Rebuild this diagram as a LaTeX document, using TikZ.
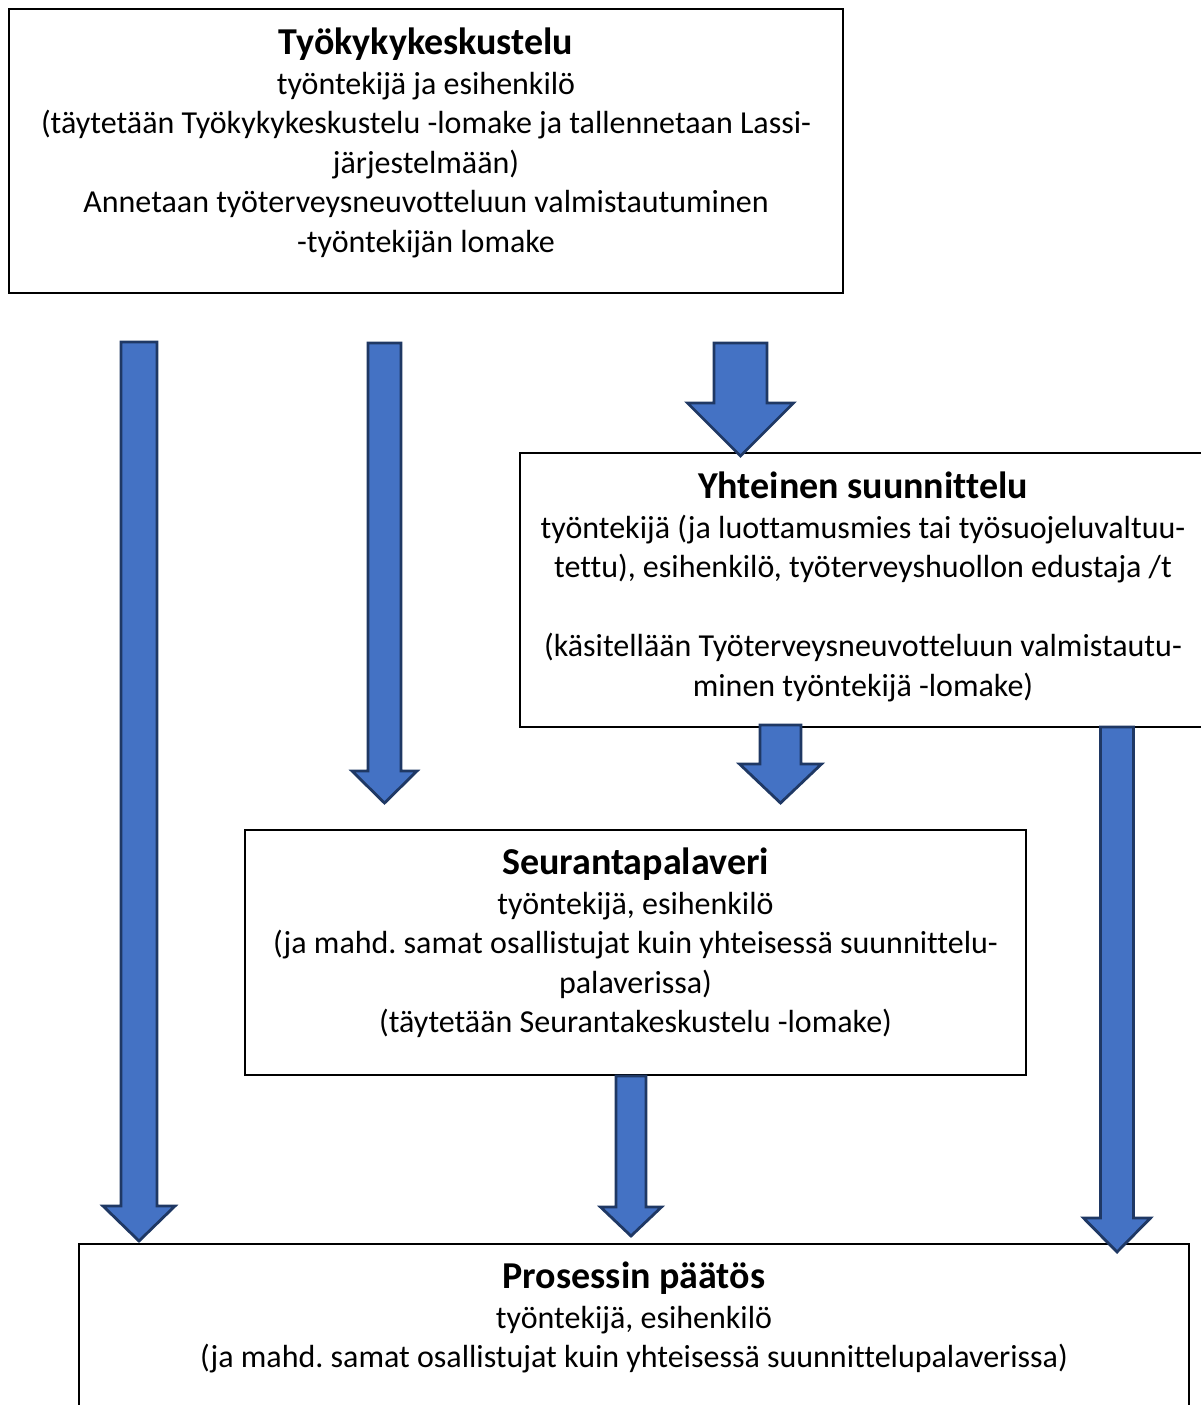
\documentclass[tikz,border=0pt]{standalone}
\usepackage{fontspec}
\setmainfont{Carlito}[Ligatures=NoCommon]
\usepackage{tikz}
\usetikzlibrary{positioning,calc}
\definecolor{arrowfill}{HTML}{4472C4}
\definecolor{arrowline}{HTML}{1F3864}
\newcommand{\bodyfont}{\fontsize{32}{39.5}\selectfont}
\newcommand{\titlefont}{\fontsize{38}{40}\selectfont\bfseries}
\frenchspacing
\tikzset{
  box/.style={draw, line width=2pt, anchor=north west, inner sep=0pt},
  boxtext/.style={anchor=north, align=center, inner sep=0pt, font=\bodyfont},
  blockarrow/.style={fill=arrowfill, draw=arrowline, line width=2.8pt, line join=miter}
}

\begin{document}
\begin{tikzpicture}[x=1pt,y=-1pt]
  \useasboundingbox (0,0) rectangle (1201,1405);
  % boxes
  \node[box, minimum width=834pt, minimum height=284pt] (kesk) at (8,8) {};
  \node[box, minimum width=686pt, minimum height=274pt] (suunn) at (519,452) {};
  \node[box, minimum width=781pt, minimum height=245pt] (seur) at (244,829) {};
  \node[box, minimum width=1110pt, minimum height=257pt] (paatos) at (78,1243) {};
  % texts
  \node[boxtext] (kesktext) at ([yshift=-20pt]kesk.north) {{\titlefont Työkykykeskustelu}\\
    työntekijä ja esihenkilö\\
    (täytetään Työkykykeskustelu -lomake ja tallennetaan Lassi-\\
    järjestelmään)\\
    Annetaan työterveysneuvotteluun valmistautuminen\\
    -työntekijän lomake};
  \node[boxtext] (suunntext) at ([yshift=-20pt]suunn.north) {{\titlefont Yhteinen suunnittelu}\\
    työntekijä (ja luottamusmies tai työsuojeluvaltuu-\\
    tettu), esihenkilö, työterveyshuollon edustaja /t\\
    \\
    (käsitellään Työterveysneuvotteluun valmistautu-\\
    minen työntekijä -lomake)};
  \node[boxtext] (seurtext) at ([yshift=-19pt]seur.north) {{\titlefont Seurantapalaveri}\\
    työntekijä, esihenkilö\\
    (ja mahd. samat osallistujat kuin yhteisessä suunnittelu-\\
    palaverissa)\\
    (täytetään Seurantakeskustelu -lomake)};
  \node[boxtext] (paatostext) at ([yshift=-19pt]paatos.north) {{\titlefont Prosessin päätös}\\
    työntekijä, esihenkilö\\
    (ja mahd. samat osallistujat kuin yhteisessä suunnittelupalaverissa)};
  % block arrows: centre / half shaft / top / head base / half head / tip
  \foreach \cx/\hs/\ytop/\ybase/\hh/\ytip in {139/18/342/1206/36/1241, 384.5/16.5/343/771/32.5/803,
      740.5/26.5/343/403/53/456, 780.5/20.5/725/764/41/803, 631/15/1076/1207/30.5/1236,
      1117/16.5/727/1218/33.5/1252}
    \draw[blockarrow] (\cx-\hs,\ytop) -- (\cx+\hs,\ytop) -- (\cx+\hs,\ybase) -- (\cx+\hh,\ybase)
      -- (\cx,\ytip) -- (\cx-\hh,\ybase) -- (\cx-\hs,\ybase) -- cycle;
\end{tikzpicture}
\end{document}
